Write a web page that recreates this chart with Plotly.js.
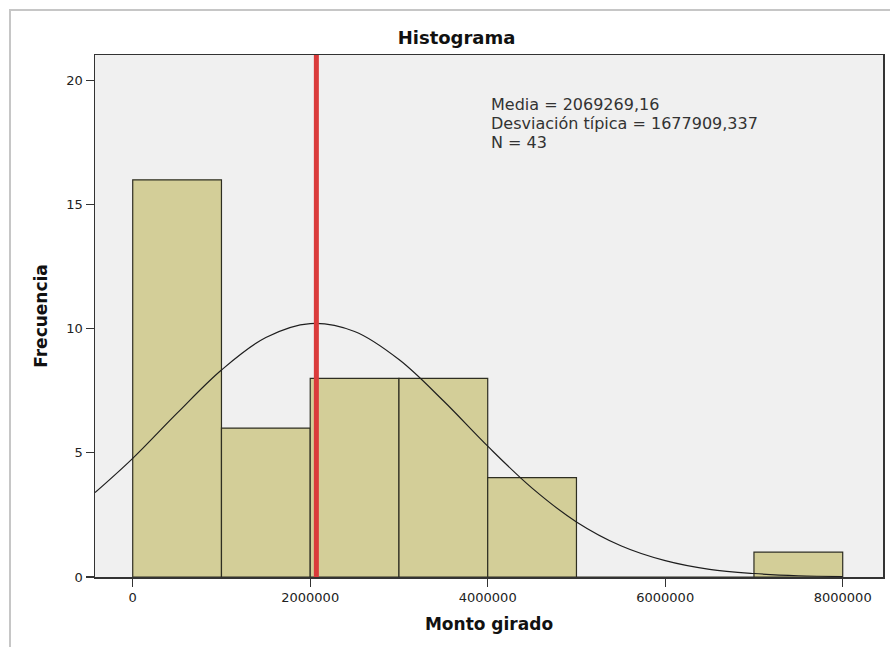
<!DOCTYPE html>
<html>
<head>
<meta charset="utf-8">
<script src="https://cdn.plot.ly/plotly-3.0.1.min.js"></script>
<style>
  html, body { margin: 0; padding: 0; background: #ffffff; }
  #wrap { position: relative; width: 890px; height: 647px; overflow: hidden; }
  #frame { position: absolute; left: 9px; top: 9px; width: 900px; height: 700px;
           border-left: 2px solid #c6c6c6; border-top: 2px solid #c6c6c6; pointer-events: none; z-index: 5; }
  #chart { position: absolute; left: 0; top: 0; width: 890px; height: 647px; }
</style>
</head>
<body>
<div id="wrap">
  <div id="chart"></div>
  <div id="frame"></div>
</div>
<script>
// ---- data ----
var binStarts = [0, 1000000, 2000000, 3000000, 4000000, 5000000, 6000000, 7000000];
var binWidth = 1000000;
var counts = [16, 6, 8, 8, 4, 0, 0, 1];

var media = 2069269.16;
var desviacion = 1677909.337;
var nTotal = 43;

// normal curve, values
var curveX = [-425000, 0, 500000, 1000000, 1500000, 2000000, 2500000, 3000000, 3500000,
              4000000, 4500000, 5000000, 5500000, 6000000, 6500000, 7000000, 7500000, 8000000];
var curveY = [3.4, 4.78, 6.6, 8.34, 9.65, 10.21, 9.89, 8.76, 7.1,
              5.27, 3.58, 2.22, 1.26, 0.66, 0.31, 0.14, 0.05, 0.02];

var xTickVals = [0, 2000000, 4000000, 6000000, 8000000];
var xTickText = ['0', '2000000', '4000000', '6000000', '8000000'];
var yTickVals = [0, 5, 10, 15, 20];

var statLines = [
  'Media = 2069269,16',
  'Desviación típica = 1677909,337',
  'N = 43'
];

// ---- build ----
var centers = binStarts.map(function (s) { return s + binWidth / 2; });

var bars = {
  type: 'bar',
  x: centers,
  y: counts,
  width: binWidth,
  marker: { color: '#d3ce98', line: { color: '#2e2e22', width: 1.2 } },
  hoverinfo: 'x+y',
  showlegend: false
};

var curve = {
  type: 'scatter',
  mode: 'lines',
  x: curveX,
  y: curveY,
  line: { color: '#1e1e1e', width: 1.2, shape: 'spline', smoothing: 1 },
  hoverinfo: 'skip',
  showlegend: false
};

var meanLine = {
  type: 'scatter',
  mode: 'lines',
  x: [media, media],
  y: [0, 21.03],
  line: { color: '#da3b3b', width: 5 },
  hoverinfo: 'skip',
  showlegend: false
};

var statY = [0.9061, 0.8697, 0.8333];
var annotations = statLines.map(function (t, i) {
  return {
    text: t, xref: 'paper', yref: 'paper', x: 0.500, y: statY[i],
    xanchor: 'left', yanchor: 'middle', showarrow: false,
    font: { family: 'DejaVu Sans', size: 16, color: '#333333' }
  };
});

var layout = {
  width: 890, height: 647,
  margin: { l: 95, r: 7, t: 55, b: 70, pad: 0 },
  paper_bgcolor: '#ffffff',
  plot_bgcolor: '#f0f0f0',
  font: { family: 'DejaVu Sans', color: '#222222' },
  title: {
    text: '<b>Histograma</b>',
    font: { family: 'DejaVu Sans', size: 18, color: '#111111' },
    xref: 'container', x: 0.513, xanchor: 'center',
    yref: 'container', y: 0.942, yanchor: 'middle'
  },
  bargap: 0,
  xaxis: {
    range: [-425000, 8454000],
    tickvals: xTickVals, ticktext: xTickText,
    ticks: 'outside', ticklen: 8, tickcolor: '#333333', tickwidth: 1.2,
    tickfont: { family: 'DejaVu Sans', size: 13, color: '#222222' },
    showgrid: false, zeroline: false,
    showline: true, linecolor: '#333333', linewidth: 1.5, mirror: true,
    title: { text: '<b>Monto girado</b>', font: { family: 'DejaVu Sans', size: 17, color: '#111111' }, standoff: 14 },
    automargin: false
  },
  yaxis: {
    range: [0, 21.03],
    tickvals: yTickVals,
    ticks: 'outside', ticklen: 8, tickcolor: '#333333', tickwidth: 1.2,
    tickfont: { family: 'DejaVu Sans', size: 13, color: '#222222' },
    showgrid: false, zeroline: false,
    showline: true, linecolor: '#333333', linewidth: 1.5, mirror: true,
    title: { text: '<b>Frecuencia</b>', font: { family: 'DejaVu Sans', size: 17, color: '#111111' }, standoff: 14 },
    automargin: false
  },
  annotations: annotations
};

Plotly.newPlot('chart', [bars, curve, meanLine], layout, { displayModeBar: false, staticPlot: true });
</script>
</body>
</html>
